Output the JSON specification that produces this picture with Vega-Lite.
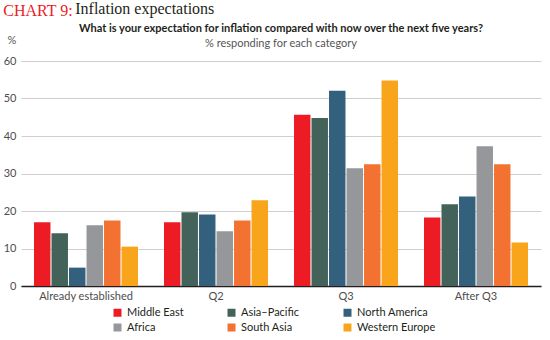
{
  "$schema": "https://vega.github.io/schema/vega-lite/v6.json",
  "background": "white",
  "padding": {"left": 3, "top": 1, "right": 5, "bottom": 5},
  "title": {
    "text": "CHART 9:",
    "subtitle": "\u200c\u00a0\u00a0\u00a0\u00a0\u00a0\u00a0\u00a0\u00a0\u00a0\u00a0\u00a0\u00a0\u00a0\u00a0\u00a0\u00a0\u00a0\u00a0Inflation expectations",
    "anchor": "start",
    "frame": "bounds",
    "font": "Liberation Serif",
    "fontSize": 16,
    "fontWeight": "normal",
    "color": "#ED1C24",
    "subtitleFont": "Liberation Serif",
    "subtitleFontSize": 16,
    "subtitleColor": "#231F20",
    "subtitlePadding": -18,
    "offset": 2
  },
  "vconcat": [
    {
      "title": {
        "text": "What is your expectation for inflation compared with now over the next five years?",
        "subtitle": "% responding for each category",
        "anchor": "middle",
        "font": "Lato",
        "fontSize": 11,
        "fontWeight": "bold",
        "color": "#231F20",
        "subtitleFont": "Lato",
        "subtitleFontSize": 11,
        "subtitleColor": "#555555",
        "subtitlePadding": 4,
        "offset": -15
      },
      "width": 520,
      "height": 225,
      "data": {
        "values": [
          {"period": "Already established", "region": "Middle East", "value": 17.0},
          {"period": "Already established", "region": "Asia\u2013Pacific", "value": 14.1},
          {"period": "Already established", "region": "North America", "value": 4.9},
          {"period": "Already established", "region": "Africa", "value": 16.2},
          {"period": "Already established", "region": "South Asia", "value": 17.5},
          {"period": "Already established", "region": "Western Europe", "value": 10.5},
          {"period": "Q2", "region": "Middle East", "value": 17.0},
          {"period": "Q2", "region": "Asia\u2013Pacific", "value": 19.7},
          {"period": "Q2", "region": "North America", "value": 19.1},
          {"period": "Q2", "region": "Africa", "value": 14.6},
          {"period": "Q2", "region": "South Asia", "value": 17.5},
          {"period": "Q2", "region": "Western Europe", "value": 22.9},
          {"period": "Q3", "region": "Middle East", "value": 45.7},
          {"period": "Q3", "region": "Asia\u2013Pacific", "value": 44.8},
          {"period": "Q3", "region": "North America", "value": 52.1},
          {"period": "Q3", "region": "Africa", "value": 31.4},
          {"period": "Q3", "region": "South Asia", "value": 32.5},
          {"period": "Q3", "region": "Western Europe", "value": 54.8},
          {"period": "After Q3", "region": "Middle East", "value": 18.3},
          {"period": "After Q3", "region": "Asia\u2013Pacific", "value": 21.8},
          {"period": "After Q3", "region": "North America", "value": 23.9},
          {"period": "After Q3", "region": "Africa", "value": 37.3},
          {"period": "After Q3", "region": "South Asia", "value": 32.5},
          {"period": "After Q3", "region": "Western Europe", "value": 11.6}
        ]
      },
      "mark": {"type": "bar"},
      "encoding": {
        "x": {
          "field": "period",
          "type": "nominal",
          "sort": ["Already established", "Q2", "Q3", "After Q3"],
          "scale": {"paddingInner": 0.2, "paddingOuter": 0.1},
          "axis": {
            "title": null,
            "labelAngle": 0,
            "ticks": false,
            "labelPadding": 4,
            "domainColor": "#231F20",
            "domainWidth": 1.5,
            "grid": false
          }
        },
        "xOffset": {
          "field": "region",
          "type": "nominal",
          "sort": ["Middle East", "Asia\u2013Pacific", "North America", "Africa", "South Asia", "Western Europe"],
          "scale": {"paddingInner": 0.06}
        },
        "y": {
          "field": "value",
          "type": "quantitative",
          "scale": {"domain": [0, 60]},
          "axis": {
            "title": "%",
            "titleAngle": 0,
            "titleAlign": "left",
            "titleBaseline": "top",
            "titleX": -14,
            "titleY": -27,
            "titleFont": "Lato",
            "titleFontSize": 11,
            "titleFontWeight": "normal",
            "titleColor": "#555555",
            "values": [0, 10, 20, 30, 40, 50, 60],
            "domain": false,
            "ticks": false,
            "labelPadding": 5,
            "gridColor": "#CFCFCF",
            "gridWidth": 1
          }
        },
        "color": {
          "field": "region",
          "type": "nominal",
          "sort": ["Middle East", "Asia\u2013Pacific", "North America", "Africa", "South Asia", "Western Europe"],
          "scale": {
            "domain": ["Middle East", "Asia\u2013Pacific", "North America", "Africa", "South Asia", "Western Europe"],
            "range": ["#ED1C24", "#43635A", "#33617D", "#96979B", "#F37231", "#F9A51B"]
          },
          "legend": {
            "title": null,
            "orient": "none",
            "legendX": 91,
            "legendY": 246,
            "direction": "horizontal",
            "columns": 3,
            "columnPadding": 42,
            "rowPadding": 3,
            "symbolType": "square",
            "symbolSize": 64,
            "symbolStrokeWidth": 0,
            "labelFont": "Lato",
            "labelFontSize": 11,
            "labelColor": "#231F20"
          }
        }
      }
    }
  ],
  "config": {
    "view": {"stroke": null},
    "axis": {
      "labelFont": "Lato",
      "labelFontSize": 11,
      "labelColor": "#4D4D4D"
    }
  }
}
